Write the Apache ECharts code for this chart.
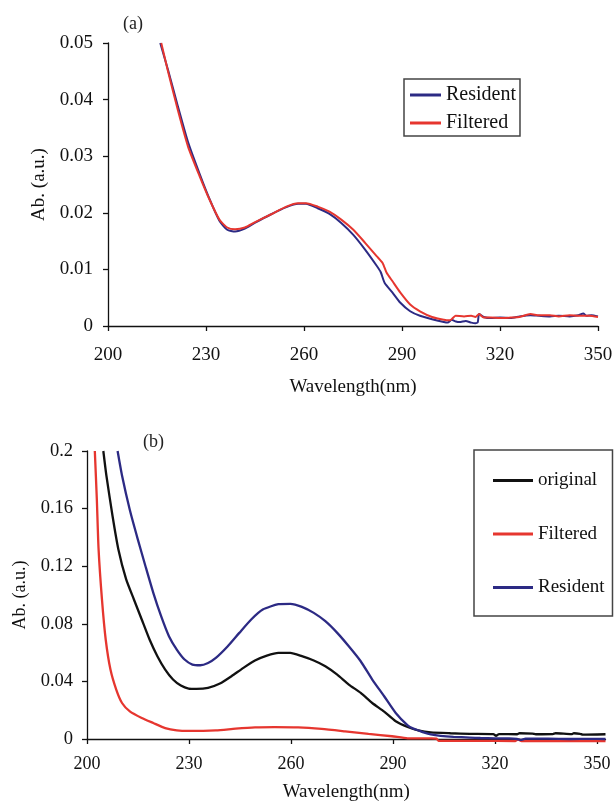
<!DOCTYPE html>
<html><head><meta charset="utf-8">
<script src="https://cdn.jsdelivr.net/npm/echarts@6/dist/echarts.min.js"></script>
<style>html,body{margin:0;padding:0;background:#fff}#c{width:614px;height:802px}</style>
</head><body><div id="c"></div>
<script>
// ---------- data ----------
const xTicks = [200, 230, 260, 290, 320, 350];
const yTicksA = [0, 0.01, 0.02, 0.03, 0.04, 0.05];
const yTicksB = [0, 0.04, 0.08, 0.12, 0.16, 0.2];

// panel (a)
const aResWl = [216.0,218.4,221.4,224.5,228.1,231.1,234.1,236.5,238.9,241.9,244.9,249.8,254.6,258.2,260.6,264.2,267.8,271.4,275.1,278.7,282.3,283.5,284.7,287.1,289.5,292.5,295.5,299.2,302.8,304,305.2,306.5,307.6,309.5,311.2,312.5,313.2,313.6,315,317.2,320,323.3,326,329.3,332,335.3,338,341.3,344,345.5,346.5,348,350];
const aResAb = [0.05,0.0452,0.0388,0.0325,0.0268,0.0224,0.0186,0.0170,0.0167,0.0172,0.0182,0.0197,0.0210,0.0216,0.0216,0.0208,0.0198,0.0182,0.0161,0.0135,0.0106,0.0095,0.0076,0.0059,0.0041,0.0026,0.0018,0.0012,0.0007,0.0006,0.0011,0.0008,0.0007,0.0009,0.0006,0.0005,0.0007,0.0021,0.0016,0.0014,0.0015,0.0014,0.0017,0.0019,0.0018,0.0017,0.0018,0.0017,0.0019,0.0022,0.0018,0.0019,0.0017];
const aFilWl = [216.3,218.4,221.4,224.5,228.1,231.1,234.1,236.5,238.9,241.9,244.9,249.8,254.6,258.2,260.6,264.2,267.8,271.4,275.1,278.7,282.3,284.1,285.3,287.1,289.5,292.5,295.5,299.2,302.8,304.5,305.2,306.4,309,311.2,312.5,313.6,315,317.2,320,323.3,326,329.3,332,335.3,338,341.3,344,347.3,350];
const aFilAb = [0.05,0.0449,0.0381,0.0317,0.0264,0.0223,0.0188,0.0174,0.0171,0.0174,0.0183,0.0197,0.0211,0.0217,0.0217,0.0211,0.0202,0.0188,0.0170,0.0147,0.0123,0.0111,0.0094,0.0079,0.0059,0.0038,0.0026,0.0016,0.0011,0.0010,0.0012,0.0018,0.0017,0.0018,0.0016,0.0021,0.0015,0.0015,0.0014,0.0015,0.0016,0.0021,0.0019,0.0019,0.0017,0.0019,0.0018,0.0018,0.0016];

// panel (b)
const bOrigWl = [204.8,205.7,207.5,209.2,211.5,213.8,216.1,218.4,220.7,223.0,225.3,227.6,229.9,232.2,235.6,239.1,242.5,246.0,249.4,252.9,256.3,259.8,263.2,266.7,270.1,273.6,277.0,280.5,283.9,287.4,290.8,294.3,297.7,301.1,306.9,312.6,319.5,320.3,321.2,326.5,327.2,331,332,337,337.8,342.5,343.2,345,345.8,352.5];
const bOrigAb = [0.2,0.183,0.155,0.132,0.111,0.0969,0.0830,0.0691,0.0575,0.0482,0.0413,0.0371,0.0350,0.0348,0.0355,0.0385,0.0436,0.0494,0.0545,0.0579,0.0598,0.0598,0.0575,0.0545,0.0505,0.0447,0.0378,0.0320,0.0250,0.0190,0.0123,0.0083,0.0058,0.0046,0.0040,0.0036,0.0034,0.0022,0.0034,0.0033,0.0040,0.0038,0.0033,0.0034,0.0040,0.0034,0.0040,0.0036,0.0030,0.0033];
const bFilWl = [202.3,202.9,203.4,204.4,205.5,206.9,208.6,210.3,212.6,216.1,219.5,223.0,226.4,229.9,237.9,243.7,249.4,255.2,262.1,269.0,275.9,282.8,289.7,294.3,301.1,302.8,303.4,315,326,326.8,327.8,335,345,352.5];
const bFilAb = [0.2,0.166,0.132,0.0969,0.0691,0.0482,0.0343,0.0250,0.0192,0.0146,0.0111,0.0076,0.0060,0.0056,0.0060,0.0072,0.0081,0.0083,0.0081,0.0070,0.0053,0.0035,0.0019,0.0005,0.0004,0.0002,-0.0012,-0.0013,-0.0014,-0.0003,-0.0015,-0.0015,-0.0014,-0.0014];
const bResWl = [209.0,210.3,212.6,214.9,217.2,219.5,221.8,224.1,226.4,228.7,231.0,233.3,235.6,237.9,241.4,244.8,248.3,251.7,256.3,259.8,263.2,266.7,270.1,273.6,277.0,280.5,283.9,287.4,290.8,294.3,296,297.7,299,301.1,304,307.8,312.6,315.7,320,324.1,326.5,327.5,329,335.6,342,348,352.5];
const bResAb = [0.2,0.183,0.159,0.139,0.120,0.1015,0.0853,0.0714,0.0621,0.0552,0.0517,0.0512,0.0528,0.0563,0.0644,0.0737,0.0830,0.0899,0.0936,0.0939,0.0918,0.0876,0.0818,0.0737,0.0644,0.0540,0.0413,0.0297,0.0181,0.0095,0.0072,0.0058,0.0046,0.0032,0.0022,0.0015,0.0010,0.0007,0.0005,0.0004,0.0000,-0.0006,0.0002,0.0002,0.0000,0.0001,0.0000];

// ---------- chart ----------
const FONT = 'Liberation Serif';
const NAVY = '#2c2a84', RED = '#e6362f', BLACK = '#111111';
const pairs = (x, y) => x.map((v, i) => [v, y[i]]);

function xAxisCfg(grid, max, margin, nameGap, labelSize) {
  return {
    gridIndex: grid, type: 'value', min: 200, max: max, interval: 30,
    axisLine: {lineStyle: {color: BLACK, width: 1.3}},
    axisTick: {length: 5, customValues: xTicks, lineStyle: {color: BLACK, width: 1.3}},
    axisLabel: {margin: margin, customValues: xTicks, fontFamily: FONT, fontSize: labelSize, color: BLACK},
    splitLine: {show: false},
    name: 'Wavelength(nm)', nameLocation: 'middle', nameGap: nameGap,
    nameTextStyle: {fontFamily: FONT, fontSize: 19, color: BLACK}
  };
}
function yAxisCfg(grid, max, interval, margin, nameGap, labelSize, nameSize) {
  return {
    gridIndex: grid, type: 'value', min: 0, max: max, interval: interval,
    axisLine: {show: true, lineStyle: {color: BLACK, width: 1.3}},
    axisTick: {show: true, length: 5, lineStyle: {color: BLACK, width: 1.3}},
    axisLabel: {margin: margin, fontFamily: FONT, fontSize: labelSize, color: BLACK},
    splitLine: {show: false},
    name: 'Ab. (a.u.)', nameLocation: 'middle', nameGap: nameGap,
    nameTextStyle: {fontFamily: FONT, fontSize: nameSize, color: BLACK}
  };
}
function line(name, xi, data, color, w) {
  return {
    name: name, type: 'line', xAxisIndex: xi, yAxisIndex: xi, data: data,
    showSymbol: false, symbol: 'none', smooth: 0.2, clip: false,
    lineStyle: {color: color, width: w}, itemStyle: {color: color}
  };
}

const chart = echarts.init(document.getElementById('c'), null, {renderer: 'canvas'});
chart.setOption({
  animation: false,
  backgroundColor: '#fff',
  title: [
    {text: '(a)', left: 123, top: 15, padding: 0, textStyle: {fontFamily: FONT, fontSize: 18, fontWeight: 'normal', color: '#222'}},
    {text: '(b)', left: 143, top: 433, padding: 0, textStyle: {fontFamily: FONT, fontSize: 18, fontWeight: 'normal', color: '#222'}}
  ],
  grid: [
    {left: 108, top: 43, width: 490, height: 283, outerBoundsMode: 'none'},
    {left: 87, top: 451, width: 518.5, height: 288, outerBoundsMode: 'none'}
  ],
  xAxis: [xAxisCfg(0, 350, 20, 52, 19), xAxisCfg(1, 352.5, 16, 44, 18)],
  yAxis: [yAxisCfg(0, 0.05, 0.01, 15, 57, 19, 19), yAxisCfg(1, 0.2, 0.04, 14, 58, 18.5, 18)],
  legend: [
    {
      data: ['Resident', 'Filtered'], orient: 'vertical', left: 404, top: 79,
      padding: [6, 4, 3, 6], itemGap: 8, itemWidth: 31, itemHeight: 3, icon: 'rect',
      borderColor: '#444', borderWidth: 1.5, backgroundColor: '#fff',
      textStyle: {fontFamily: FONT, fontSize: 20, color: BLACK}, selectedMode: false
    },
    {
      data: ['original', 'Filtered', 'Resident'], orient: 'vertical', left: 474, top: 450,
      padding: [21, 8, 19, 19], itemGap: 34.5, itemWidth: 40, itemHeight: 3, icon: 'rect',
      borderColor: '#444', borderWidth: 1.5, backgroundColor: '#fff',
      textStyle: {fontFamily: FONT, fontSize: 19, color: BLACK}, selectedMode: false
    }
  ],
  series: [
    line('Resident', 0, pairs(aResWl, aResAb), NAVY, 2),
    line('Filtered', 0, pairs(aFilWl, aFilAb), RED, 2),
    line('original', 1, pairs(bOrigWl, bOrigAb), BLACK, 2.3),
    line('Filtered', 1, pairs(bFilWl, bFilAb), RED, 2.3),
    line('Resident', 1, pairs(bResWl, bResAb), NAVY, 2.3)
  ]
});
</script>
</body></html>
